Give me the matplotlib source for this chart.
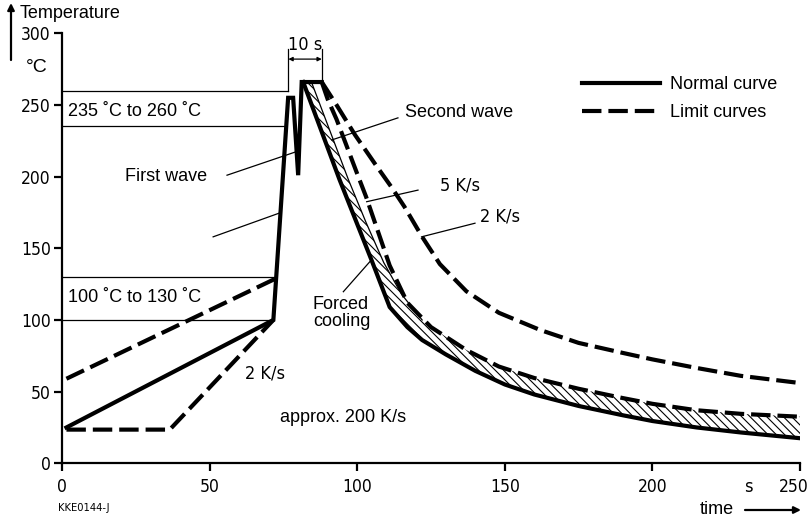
import numpy as np
import matplotlib
matplotlib.use('Agg')
import matplotlib.pyplot as plt
from matplotlib.lines import Line2D
import matplotlib.transforms as mtransforms

# ---------------- data (time in s, temperature in °C) ----------------
x_ticks = [0, 50, 100, 150, 200, 250]
y_ticks = [0, 50, 100, 150, 200, 250, 300]

# normal curve: preheating, first wave, second wave
normal_rise_t = [1.5, 71.6, 76.6, 78.3, 80.0, 81.2, 88.0]
normal_rise_T = [25, 100, 255, 255, 201, 266, 266]
# normal curve: cooling
normal_cool_t = [81.7, 94, 105, 111, 117, 122, 130, 140, 150, 160, 175, 190, 200, 215, 230, 250]
normal_cool_T = [266, 198, 141, 109, 95, 86, 76, 64.5, 55, 48, 40, 33.5, 29.5, 25, 21.5, 17.5]
# forced cooling boundary (thin line)
forced_t = [84.5, 97, 103, 109, 115, 122]
forced_T = [266, 198, 168, 140, 118, 100]
# limit curves, preheating
upper_pre_t = [1.5, 72.5]
upper_pre_T = [59, 129]
lower_pre_t = [1.5, 36.5, 71.6]
lower_pre_T = [23.5, 23.5, 100]
# limit curves, cooling 5 K/s and 2 K/s
limit5_t = [88, 90, 93, 96.5, 100, 103, 106, 111, 117, 125, 137, 148, 160, 175, 190, 200, 215, 230, 250]
limit5_T = [266, 254, 240, 221, 202, 186, 168, 138, 112, 95, 79, 67.5, 59.5, 52, 45.5, 41.5, 37, 34.5, 32.5]
limit2_t = [88, 93, 99.3, 106, 111.5, 116, 122, 128, 137, 148, 162, 175, 190, 200, 215, 230, 250]
limit2_T = [266, 250, 229, 209, 193, 179, 158, 139, 120, 105, 93, 84, 77, 72.5, 66.5, 61, 56]

ranges = [(100, 130), (235, 260)]
range_labels = ['100 ˚C to 130 ˚C', '235 ˚C to 260 ˚C']
window_t = [76.7, 88.0]   # 10 s window

# ---------------- style ----------------
plt.rcParams['lines.scale_dashes'] = False
plt.rcParams['hatch.linewidth'] = 0.8
MAIN = ['Liberation Sans', 'DejaVu Sans']
NARROW = dict(family='DejaVu Sans', stretch='condensed')
DASH = (0, (14, 5))
LW = 3.0
THIN = 0.9

fig = plt.figure(figsize=(8.11, 5.21), dpi=100)
ax = fig.add_axes([62 / 811, 1 - 463.3 / 521, 738 / 811, 430 / 521])
ax.set_xlim(0, 250)
ax.set_ylim(0, 300)
for s in ['top', 'right']:
    ax.spines[s].set_visible(False)
for s in ['left', 'bottom']:
    ax.spines[s].set_linewidth(1.6)
ax.set_xticks(x_ticks)
ax.set_yticks(y_ticks)
ax.tick_params(axis='both', length=6, width=1.6, labelsize=12.5)
ax.tick_params(axis='y', pad=2)
ax.tick_params(axis='x', pad=4.5)
for lab in ax.get_xticklabels() + ax.get_yticklabels():
    lab.set_family(NARROW['family'])
    lab.set_stretch(NARROW['stretch'])
last = ax.get_xticklabels()[-1]
last.set_transform(last.get_transform() + mtransforms.ScaledTranslation(-6 / 100, 0, fig.dpi_scale_trans))

# ---------------- curves ----------------
ax.plot(normal_rise_t, normal_rise_T, color='k', lw=LW, solid_joinstyle='miter')
ax.plot(normal_cool_t, normal_cool_T, color='k', lw=LW, solid_joinstyle='miter')
ax.plot(forced_t, forced_T, color='k', lw=THIN)
ax.plot(upper_pre_t, upper_pre_T, color='k', lw=LW, ls=DASH)
ax.plot(lower_pre_t, lower_pre_T, color='k', lw=LW, ls=DASH)
ax.plot(limit5_t, limit5_T, color='k', lw=LW, ls=DASH)
ax.plot(limit2_t, limit2_T, color='k', lw=LW, ls=DASH)

# hatched band between normal curve and forced-cooling / 5 K/s limit
k = limit5_t.index(125)
poly_t = forced_t + limit5_t[k:] + normal_cool_t[::-1]
poly_T = forced_T + limit5_T[k:] + normal_cool_T[::-1]
ax.fill(poly_t, poly_T, facecolor='none', edgecolor='k', lw=0, hatch='\\\\\\\\')

# ---------------- reference ranges ----------------
rise_t = normal_rise_t[1:3]
rise_T = normal_rise_T[1:3]
for (lo, hi), lab in zip(ranges, range_labels):
    ax.plot([0, np.interp(lo, rise_T, rise_t)], [lo, lo], color='k', lw=THIN)
    x_hi = window_t[0] if hi == 260 else np.interp(hi, rise_T, rise_t)
    ax.plot([0, x_hi], [hi, hi], color='k', lw=THIN)
    ax.text(2, hi - 14.5, lab, family=MAIN, fontsize=13, va='center', ha='left')

# 10 s window bracket
ax.plot([window_t[0]] * 2, [260, 289], color='k', lw=THIN, clip_on=False)
ax.plot([window_t[1]] * 2, [266, 289], color='k', lw=THIN, clip_on=False)
ax.annotate('', xy=(window_t[0], 282), xytext=(window_t[1], 282),
            arrowprops=dict(arrowstyle='<|-|>', lw=THIN, color='k', shrinkA=0, shrinkB=0,
                            mutation_scale=6), annotation_clip=False)
ax.text(sum(window_t) / 2, 292, '10 s', fontsize=13, ha='center', va='center', **NARROW)

# ---------------- labels with leader lines ----------------
def leader(p0, p1):
    ax.plot([p0[0], p1[0]], [p0[1], p1[1]], color='k', lw=THIN)

ax.text(21.3, 200, 'First wave', family=MAIN, fontsize=13, va='center', ha='left')
leader((55.9, 201), (79.5, 217.5))
leader((51.2, 158), (73.8, 174.7))
ax.text(116.2, 245, 'Second wave', family=MAIN, fontsize=13, va='center', ha='left')
leader((113.8, 241), (91.4, 225.6))
ax.text(128, 193.5, '5 K/s', fontsize=13, va='center', ha='left', **NARROW)
leader((120.6, 190.6), (103.2, 182.5))
ax.text(141.6, 172.5, '2 K/s', fontsize=13, va='center', ha='left', **NARROW)
leader((139.9, 167.5), (121.8, 158))
ax.text(62, 63, '2 K/s', fontsize=13, va='center', ha='left', **NARROW)
ax.text(85, 105, 'Forced\ncooling', family=MAIN, fontsize=13, va='center', ha='left',
        linespacing=1.0)
leader((95.3, 119.7), (104.3, 140.7))
ax.text(73.8, 32, 'approx. 200 K/s', family=MAIN, fontsize=13, va='center', ha='left')

# ---------------- legend ----------------
handles = [Line2D([], [], color='k', lw=LW), Line2D([], [], color='k', lw=LW, ls=DASH)]
leg = ax.legend(handles, ['Normal curve', 'Limit curves'], loc='upper left',
                bbox_to_anchor=(582 / 811, 1 - 76 / 521), bbox_transform=fig.transFigure,
                frameon=False, handlelength=4.3, handletextpad=0.55, labelspacing=0.62,
                borderpad=0, borderaxespad=0, prop=dict(family=MAIN, size=13))

# ---------------- axis titles / misc ----------------
fig.text(20 / 811, 1 - 13 / 521, 'Temperature', family=MAIN, fontsize=13, va='center', ha='left')
fig.text(37 / 811, 1 - 68 / 521, '°C', family=MAIN, fontsize=14, va='center', ha='center')
ax.annotate('', xy=(11 / 811, 1 - 3 / 521), xytext=(11 / 811, 1 - 60 / 521),
            xycoords='figure fraction', textcoords='figure fraction',
            arrowprops=dict(arrowstyle='-|>', lw=1.6, color='k', mutation_scale=10,
                            shrinkA=0, shrinkB=0))
fig.text(717 / 811, 1 - 510 / 521, 'time', family=MAIN, fontsize=13, va='center', ha='center')
ax.annotate('', xy=(801 / 811, 1 - 510 / 521), xytext=(745 / 811, 1 - 510 / 521),
            xycoords='figure fraction', textcoords='figure fraction',
            arrowprops=dict(arrowstyle='-|>', lw=1.6, color='k', mutation_scale=10,
                            shrinkA=0, shrinkB=0))
fig.text(748 / 811, 1 - 487 / 521, 's', fontsize=13, va='center', ha='center', **NARROW)
fig.text(58 / 811, 1 - 508 / 521, 'KKE0144-J', fontsize=8, va='center', ha='left', **NARROW)

fig.savefig('out.png', dpi=100)
